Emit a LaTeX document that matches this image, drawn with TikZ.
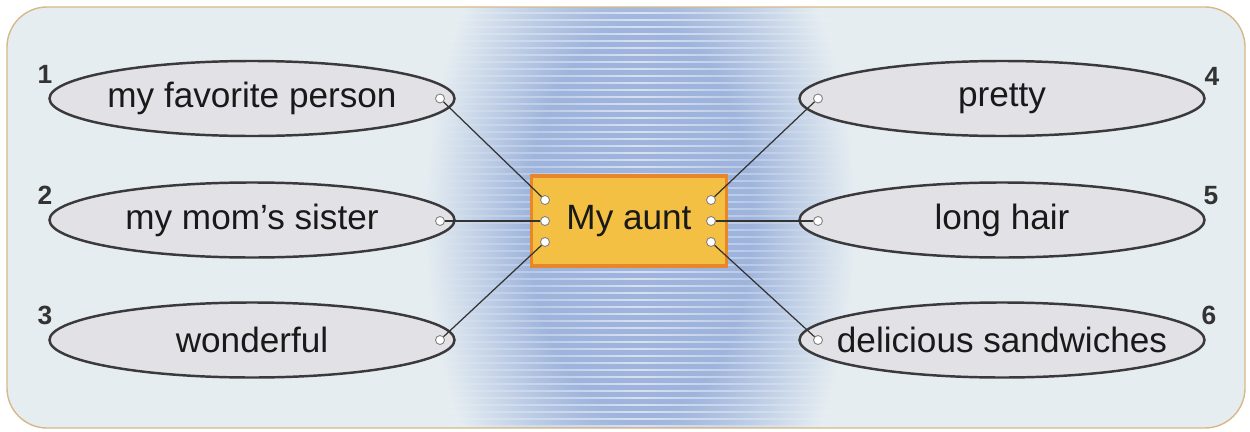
\documentclass[tikz,border=0pt]{standalone}
\usepackage{fontspec}
\setmainfont{Liberation Sans}
\usetikzlibrary{shapes.geometric, fadings}
\definecolor{bgblue}{HTML}{E5EDF1}
\definecolor{glowblue}{HTML}{9EB4DC}
\definecolor{framecol}{HTML}{D8B88A}
\definecolor{ovalgrey}{HTML}{E2E2E6}
\definecolor{ovalline}{HTML}{3A3A3C}
\definecolor{boxfill}{HTML}{F4C043}
\definecolor{boxline}{HTML}{E8862A}
\pgfdeclareradialshading{glow}{\pgfpoint{0bp}{0bp}}{color(0bp)=(glowblue); color(13bp)=(glowblue); color(25bp)=(bgblue); color(50bp)=(bgblue)}
\tikzfading[name=fade sides, left color=transparent!100, right color=transparent!100, middle color=transparent!0]
\tikzstyle{idea} = [ellipse, draw=ovalline, line width=1.4pt, fill=ovalgrey, minimum width=8.1cm, minimum height=1.5cm, inner sep=0pt, inner xsep=-1cm, font=\fontsize{20}{24}\selectfont, text=black!90]
\tikzstyle{topic} = [rectangle, draw=boxline, line width=2.2pt, fill=boxfill, minimum width=3.9cm, minimum height=1.8cm, font=\fontsize{20}{24}\selectfont, text=black!90]
\tikzstyle{hole} = [circle, draw=gray, fill=white, line width=0.5pt, minimum size=0.18cm, inner sep=0pt]
\tikzstyle{link} = [draw=black!80, line width=0.7pt]
\tikzstyle{num} = [font=\fontsize{15}{17}\selectfont\bfseries, text=black!80]

\begin{document}
\begin{tikzpicture}
  \useasboundingbox (0,0) rectangle (25,8.62);
  % background
  \fill[white] (0,0) rectangle (25,8.62);
  \begin{scope}
    \clip[rounded corners=0.8cm] (0.14,0.06) rectangle (24.9,8.48);
    \fill[bgblue] (0,0) rectangle (25,8.62);
    \shade[shading=glow] (12.8,4.2) ellipse [x radius=4.3cm, y radius=7.5cm];
    \draw[white, line width=0.7pt, opacity=0.6, path fading=fade sides] foreach \y in {0.1,0.24,...,8.5} {(8.6,\y) -- (17,\y)};
  \end{scope}
  \draw[framecol, line width=0.8pt, rounded corners=0.8cm] (0.14,0.06) rectangle (24.9,8.48);

  % left side
  \node[idea] (e1) at (5.04,6.65) {my favorite person};
  \node[idea] (e2) at (5.04,4.22) {my mom’s sister};
  \node[idea] (e3) at (5.04,1.82) {wonderful};
  \node[num] (n1) at (0.9,7.14) {1};
  \node[num] (n2) at (0.9,4.72) {2};
  \node[num] (n3) at (0.9,2.32) {3};

  % right side
  \node[idea] (e4) at (20.04,6.65) {pretty};
  \node[idea] (e5) at (20.04,4.22) {long hair};
  \node[idea] (e6) at (20.04,1.82) {delicious sandwiches};
  \node[num] (n4) at (24.24,7.1) {4};
  \node[num] (n5) at (24.22,4.7) {5};
  \node[num] (n6) at (24.18,2.32) {6};

  % centre
  \node[topic] (aunt) at (12.58,4.2) {My aunt};
  \node[hole] (a1) at (10.9,4.62) {};
  \node[hole] (a2) at (10.9,4.2) {};
  \node[hole] (a3) at (10.9,3.78) {};
  \node[hole] (a4) at (14.22,4.62) {};
  \node[hole] (a5) at (14.22,4.2) {};
  \node[hole] (a6) at (14.22,3.78) {};

  \node[hole] (b1) at (8.8,6.65) {};
  \node[hole] (b2) at (8.8,4.2) {};
  \node[hole] (b3) at (8.8,1.82) {};
  \node[hole] (b4) at (16.36,6.65) {};
  \node[hole] (b5) at (16.36,4.2) {};
  \node[hole] (b6) at (16.36,1.82) {};

  \draw[link] (b1) -- (a1);
  \draw[link] (b2) -- (a2);
  \draw[link] (b3) -- (a3);
  \draw[link] (b4) -- (a4);
  \draw[link] (b5) -- (a5);
  \draw[link] (b6) -- (a6);
\end{tikzpicture}
\end{document}
